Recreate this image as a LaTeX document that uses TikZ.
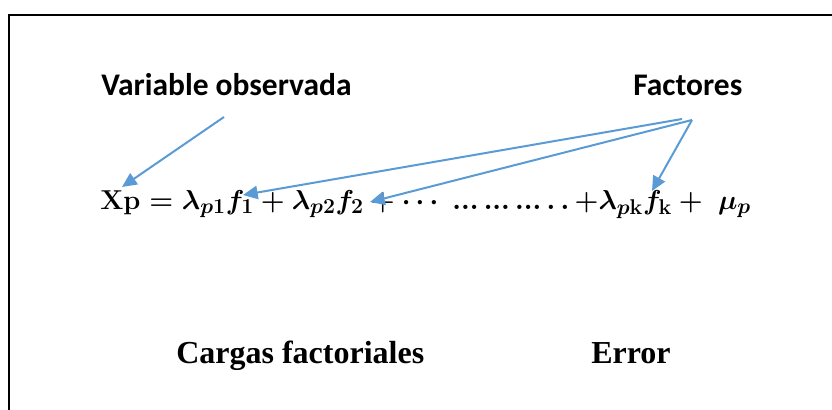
\documentclass[tikz,border=0pt]{standalone}
\usepackage{fix-cm}
\usepackage{amsmath,bm}
\usepackage{fontspec}
\newfontfamily\labelfont{Carlito}
\newfontfamily\capfont{Liberation Serif}
\DeclareMathSizes{20.5}{20.5}{16}{12}
\definecolor{arrowblue}{RGB}{91,155,213}
\usetikzlibrary{arrows.meta}

\begin{document}
\begin{tikzpicture}[x=0.75pt,y=-0.75pt,
  toplabel/.style={anchor=base west,inner sep=0pt,font=\labelfont\bfseries\fontsize{23.6}{28}\selectfont},
  botlabel/.style={anchor=base west,inner sep=0pt,font=\capfont\bfseries\fontsize{24}{29}\selectfont},
  pointer/.style={-{Triangle[length=11pt,width=10pt]},arrowblue,line width=1.5pt}]
  \useasboundingbox (0,0) rectangle (832,410);
  % frame
  \draw[line width=1.5pt] (9,412) -- (9,15) -- (834,15);
  % labels
  \node[toplabel] (varobs) at (101,95) {Variable observada};
  \node[toplabel] (factores) at (633,95) {Factores};
  \node[botlabel] (cargas) at (176,363) {Cargas factoriales};
  \node[botlabel] (error) at (591,363) {Error};
  % model equation
  \node[anchor=base west,inner sep=0pt,font=\fontsize{20.5}{24}\selectfont\boldmath] (model) at (100,209)
    {$\mathbf{Xp} = \bm{\lambda}_{\bm{p}\mathbf{1}}\bm{f}_{1} + \bm{\lambda}_{\bm{p}\mathbf{2}}\bm{f}_{2} + \cdots\;{.}{.}{.}\,{.}{.}{.}\,{.}{.}{.}\,{.}\,{.}\,{+}\bm{\lambda}_{\bm{p}\mathbf{k}}\bm{f}_{\mathbf{k}} +\ \bm{\mu}_{\bm{p}}$};
  % arrow ends
  \coordinate (fromVar) at (224,117);
  \coordinate (toXp) at (122,187);
  \coordinate (fromFacA) at (682,119);
  \coordinate (fromFacB) at (692,120);
  \coordinate (toF1) at (243,195);
  \coordinate (toF2) at (370,202);
  \coordinate (toFk) at (652,191);
  \draw[pointer] (fromVar) -- (toXp);
  \draw[pointer] (fromFacA) -- (toF1);
  \draw[pointer] (fromFacB) -- (toF2);
  \draw[pointer] (fromFacB) -- (toFk);
\end{tikzpicture}
\end{document}
